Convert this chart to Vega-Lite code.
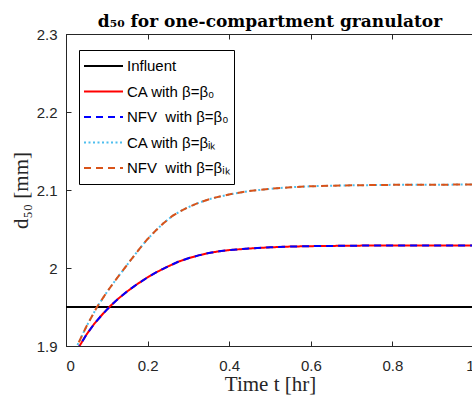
{
  "$schema": "https://vega.github.io/schema/vega-lite/v6.json",
  "width": 408,
  "height": 312,
  "autosize": "none",
  "padding": {"left": 66, "top": 34, "right": 0, "bottom": 55},
  "background": "white",
  "config": {
    "view": {"stroke": "#262626", "strokeWidth": 1},
    "font": "Liberation Sans",
    "axis": {
      "grid": false,
      "domainColor": "#262626",
      "tickColor": "#262626",
      "labelColor": "#262626",
      "labelFont": "Liberation Sans",
      "labelFontSize": 15,
      "tickSize": -5,
      "titleFont": "Liberation Serif",
      "titleFontWeight": "normal",
      "titleFontSize": 21,
      "titleColor": "#262626"
    },
    "legend": {
      "orient": "none",
      "legendX": 13,
      "legendY": 16,
      "strokeColor": "black",
      "fillColor": "white",
      "padding": 4,
      "clipHeight": 24,
      "rowPadding": 1.5,
      "symbolType": "stroke",
      "symbolSize": 1521,
      "symbolStrokeWidth": 2,
      "labelFont": "Liberation Sans",
      "labelFontSize": 15,
      "labelColor": "black",
      "labelOffset": 3,
      "labelLimit": 300
    }
  },
  "title": {
    "text": "d₅₀ for one-compartment granulator",
    "font": "DejaVu Serif",
    "fontWeight": "bold",
    "fontSize": 17,
    "color": "black",
    "anchor": "middle",
    "offset": -4
  },
  "data": {
    "values": [
      {"series": "Influent", "t": 0, "d": 1.95},
      {"series": "Influent", "t": 1, "d": 1.95},
      {"series": "CA0", "t": 0.025, "d": 1.893},
      {"series": "CA0", "t": 0.033, "d": 1.9},
      {"series": "CA0", "t": 0.05, "d": 1.9145},
      {"series": "CA0", "t": 0.07, "d": 1.929},
      {"series": "CA0", "t": 0.09, "d": 1.941},
      {"series": "CA0", "t": 0.11, "d": 1.952},
      {"series": "CA0", "t": 0.13, "d": 1.9615},
      {"series": "CA0", "t": 0.15, "d": 1.97},
      {"series": "CA0", "t": 0.175, "d": 1.9795},
      {"series": "CA0", "t": 0.2, "d": 1.988},
      {"series": "CA0", "t": 0.225, "d": 1.9955},
      {"series": "CA0", "t": 0.25, "d": 2.002},
      {"series": "CA0", "t": 0.275, "d": 2.008},
      {"series": "CA0", "t": 0.3, "d": 2.0125},
      {"series": "CA0", "t": 0.325, "d": 2.0162},
      {"series": "CA0", "t": 0.35, "d": 2.0192},
      {"series": "CA0", "t": 0.375, "d": 2.0214},
      {"series": "CA0", "t": 0.4, "d": 2.023},
      {"series": "CA0", "t": 0.45, "d": 2.025},
      {"series": "CA0", "t": 0.5, "d": 2.0265},
      {"series": "CA0", "t": 0.55, "d": 2.0275},
      {"series": "CA0", "t": 0.6, "d": 2.028},
      {"series": "CA0", "t": 0.7, "d": 2.0286},
      {"series": "CA0", "t": 0.8, "d": 2.029},
      {"series": "CA0", "t": 1.0, "d": 2.029},
      {"series": "NFV0", "t": 0.025, "d": 1.893},
      {"series": "NFV0", "t": 0.033, "d": 1.9},
      {"series": "NFV0", "t": 0.05, "d": 1.9145},
      {"series": "NFV0", "t": 0.07, "d": 1.929},
      {"series": "NFV0", "t": 0.09, "d": 1.941},
      {"series": "NFV0", "t": 0.11, "d": 1.952},
      {"series": "NFV0", "t": 0.13, "d": 1.9615},
      {"series": "NFV0", "t": 0.15, "d": 1.97},
      {"series": "NFV0", "t": 0.175, "d": 1.9795},
      {"series": "NFV0", "t": 0.2, "d": 1.988},
      {"series": "NFV0", "t": 0.225, "d": 1.9955},
      {"series": "NFV0", "t": 0.25, "d": 2.002},
      {"series": "NFV0", "t": 0.275, "d": 2.008},
      {"series": "NFV0", "t": 0.3, "d": 2.0125},
      {"series": "NFV0", "t": 0.325, "d": 2.0162},
      {"series": "NFV0", "t": 0.35, "d": 2.0192},
      {"series": "NFV0", "t": 0.375, "d": 2.0214},
      {"series": "NFV0", "t": 0.4, "d": 2.023},
      {"series": "NFV0", "t": 0.45, "d": 2.025},
      {"series": "NFV0", "t": 0.5, "d": 2.0265},
      {"series": "NFV0", "t": 0.55, "d": 2.0275},
      {"series": "NFV0", "t": 0.6, "d": 2.028},
      {"series": "NFV0", "t": 0.7, "d": 2.0286},
      {"series": "NFV0", "t": 0.8, "d": 2.029},
      {"series": "NFV0", "t": 1.0, "d": 2.029},
      {"series": "CAik", "t": 0.018, "d": 1.891},
      {"series": "CAik", "t": 0.027, "d": 1.9},
      {"series": "CAik", "t": 0.05, "d": 1.925},
      {"series": "CAik", "t": 0.076, "d": 1.95},
      {"series": "CAik", "t": 0.1, "d": 1.969},
      {"series": "CAik", "t": 0.125, "d": 1.987},
      {"series": "CAik", "t": 0.157, "d": 2.009},
      {"series": "CAik", "t": 0.18, "d": 2.0245},
      {"series": "CAik", "t": 0.198, "d": 2.036},
      {"series": "CAik", "t": 0.22, "d": 2.048},
      {"series": "CAik", "t": 0.238, "d": 2.057},
      {"series": "CAik", "t": 0.26, "d": 2.0665},
      {"series": "CAik", "t": 0.279, "d": 2.0725},
      {"series": "CAik", "t": 0.3, "d": 2.078},
      {"series": "CAik", "t": 0.32, "d": 2.0825},
      {"series": "CAik", "t": 0.34, "d": 2.0863},
      {"series": "CAik", "t": 0.361, "d": 2.0897},
      {"series": "CAik", "t": 0.402, "d": 2.0945},
      {"series": "CAik", "t": 0.447, "d": 2.0985},
      {"series": "CAik", "t": 0.5, "d": 2.1015},
      {"series": "CAik", "t": 0.55, "d": 2.1035},
      {"series": "CAik", "t": 0.6, "d": 2.1048},
      {"series": "CAik", "t": 0.7, "d": 2.106},
      {"series": "CAik", "t": 0.8, "d": 2.1066},
      {"series": "CAik", "t": 1.0, "d": 2.107},
      {"series": "NFVik", "t": 0.018, "d": 1.891},
      {"series": "NFVik", "t": 0.027, "d": 1.9},
      {"series": "NFVik", "t": 0.05, "d": 1.925},
      {"series": "NFVik", "t": 0.076, "d": 1.95},
      {"series": "NFVik", "t": 0.1, "d": 1.969},
      {"series": "NFVik", "t": 0.125, "d": 1.987},
      {"series": "NFVik", "t": 0.157, "d": 2.009},
      {"series": "NFVik", "t": 0.18, "d": 2.0245},
      {"series": "NFVik", "t": 0.198, "d": 2.036},
      {"series": "NFVik", "t": 0.22, "d": 2.048},
      {"series": "NFVik", "t": 0.238, "d": 2.057},
      {"series": "NFVik", "t": 0.26, "d": 2.0665},
      {"series": "NFVik", "t": 0.279, "d": 2.0725},
      {"series": "NFVik", "t": 0.3, "d": 2.078},
      {"series": "NFVik", "t": 0.32, "d": 2.0825},
      {"series": "NFVik", "t": 0.34, "d": 2.0863},
      {"series": "NFVik", "t": 0.361, "d": 2.0897},
      {"series": "NFVik", "t": 0.402, "d": 2.0945},
      {"series": "NFVik", "t": 0.447, "d": 2.0985},
      {"series": "NFVik", "t": 0.5, "d": 2.1015},
      {"series": "NFVik", "t": 0.55, "d": 2.1035},
      {"series": "NFVik", "t": 0.6, "d": 2.1048},
      {"series": "NFVik", "t": 0.7, "d": 2.106},
      {"series": "NFVik", "t": 0.8, "d": 2.1066},
      {"series": "NFVik", "t": 1.0, "d": 2.107}
    ]
  },
  "resolve": {"axis": {"x": "independent"}},
  "layer": [
    {
      "mark": {"type": "line", "strokeWidth": 2, "clip": true},
      "encoding": {
        "x": {
          "field": "t",
          "type": "quantitative",
          "scale": {"domain": [0, 1], "nice": false, "zero": false},
          "axis": {
            "values": [0, 0.2, 0.4, 0.6, 0.8, 1],
            "format": "~g",
            "labelPadding": 17,
            "title": "Time t [hr]",
            "titlePadding": 0
          }
        },
        "y": {
          "field": "d",
          "type": "quantitative",
          "scale": {"domain": [1.9, 2.3], "nice": false, "zero": false},
          "axis": {
            "values": [1.9, 2.0, 2.1, 2.2, 2.3],
            "format": "~g",
            "labelPadding": 14,
            "title": "d₅₀ [mm]",
            "titlePadding": 5
          }
        },
        "color": {
          "field": "series",
          "type": "nominal",
          "scale": {
            "domain": ["Influent", "CA0", "NFV0", "CAik", "NFVik"],
            "range": ["#000000", "#FF0000", "#0000FF", "#4DBEEE", "#D95319"]
          },
          "legend": {
            "title": null,
            "labelExpr": "{'Influent': 'Influent', 'CA0': 'CA with β=β₀', 'NFV0': 'NFV \u00a0with β=β₀', 'CAik': 'CA with β=βᵢₖ', 'NFVik': 'NFV \u00a0with β=βᵢₖ'}[datum.label]"
          }
        },
        "strokeDash": {
          "field": "series",
          "type": "nominal",
          "scale": {
            "domain": ["Influent", "CA0", "NFV0", "CAik", "NFVik"],
            "range": [[1, 0], [1, 0], [7, 5], [2, 2.5], [7, 5]]
          },
          "legend": {
            "title": null,
            "labelExpr": "{'Influent': 'Influent', 'CA0': 'CA with β=β₀', 'NFV0': 'NFV \u00a0with β=β₀', 'CAik': 'CA with β=βᵢₖ', 'NFVik': 'NFV \u00a0with β=βᵢₖ'}[datum.label]"
          }
        }
      }
    },
    {
      "mark": {"type": "point", "opacity": 0},
      "encoding": {
        "x": {
          "field": "t",
          "type": "quantitative",
          "axis": {
            "orient": "top",
            "values": [0, 0.2, 0.4, 0.6, 0.8, 1],
            "labels": false,
            "domain": false,
            "title": null
          }
        },
        "y": {"field": "d", "type": "quantitative"}
      }
    }
  ]
}
